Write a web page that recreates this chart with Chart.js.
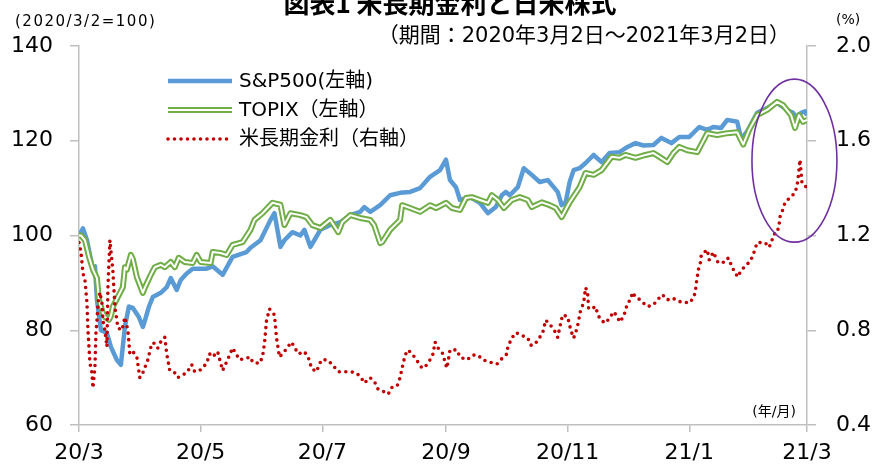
<!DOCTYPE html>
<html>
<head>
<meta charset="utf-8">
<script src="https://cdn.jsdelivr.net/npm/chart.js@4"></script>
<style>
  body { margin: 0; background: #fff; }
  #wrap { width: 875px; height: 468px; }
</style>
</head>
<body>
<div id="wrap"><canvas id="chart" width="875" height="468"></canvas></div>
<script>
// --- data (x = days since 2020/3/2) ---
const tickDays = [0, 61, 122, 184, 245, 306, 365];
const tickLabels = ['20/3', '20/5', '20/7', '20/9', '20/11', '21/1', '21/3'];

const spxDays = [0, 2, 4, 7, 8, 9, 11, 14, 16, 19, 21, 23, 25, 27, 30, 32, 33, 35, 37, 41, 44, 46, 49, 51, 54, 57, 64, 67, 72, 77, 84, 86, 91, 96, 98, 101, 103, 107, 111, 113, 116, 118, 121, 126, 131, 136, 141, 143, 146, 151, 156, 161, 166, 171, 176, 181, 184, 186, 189, 191, 196, 201, 205, 209, 212, 214, 216, 220, 223, 227, 231, 235, 240, 242, 244, 246, 248, 251, 254, 258, 262, 266, 271, 275, 279, 283, 288, 292, 297, 301, 306, 311, 315, 318, 322, 325, 330, 332, 335, 337, 340, 345, 350, 355, 358, 360, 362, 364, 365];
const spxValues = [100, 101.5, 99, 92.8, 93.5, 86.4, 80, 79.4, 76.5, 73.7, 72.7, 80.7, 85, 84.7, 82.8, 80.7, 82, 84.9, 87, 87.9, 89.1, 91, 88.5, 90.6, 92, 93, 93, 93.5, 91.7, 95.5, 96.5, 97.4, 99, 103.3, 104.7, 97.6, 99, 100.7, 100, 101.2, 97.6, 99, 101.2, 102.2, 102.8, 104.3, 105, 106, 105, 106.4, 108.5, 109, 109.2, 110, 112.4, 113.8, 116, 111.7, 110.2, 107.5, 108.1, 106.9, 104.7, 106, 108.5, 109.2, 108.5, 110.2, 114.2, 112.8, 111.3, 111.7, 109.2, 106.4, 107, 111.3, 113.8, 114.2, 115.3, 117, 115.5, 117.4, 117.6, 118.7, 119.5, 119, 119.1, 120.6, 119.5, 120.8, 120.8, 122.9, 122.3, 122.9, 122.7, 124.4, 124, 120.4, 122, 123.5, 125.9, 126.9, 128, 126.5, 125.9, 124.8, 125.9, 126.2, 125.4];

const topixDays = [0, 1, 3, 5, 7, 9, 10, 12, 13, 15, 16, 17, 22, 23, 24, 26, 27, 29, 32, 33, 36, 38, 41, 43, 46, 48, 50, 53, 57, 59, 61, 66, 67, 71, 74, 77, 82, 86, 88, 92, 97, 101, 103, 106, 111, 114, 117, 121, 126, 130, 132, 136, 141, 146, 148, 151, 152, 156, 161, 162, 166, 171, 176, 179, 184, 187, 191, 194, 197, 201, 205, 207, 210, 213, 217, 221, 225, 227, 232, 236, 239, 242, 246, 251, 254, 258, 262, 267, 271, 274, 279, 284, 288, 291, 295, 298, 301, 305, 310, 315, 320, 325, 330, 333, 336, 340, 345, 350, 353, 357, 359, 361, 363, 365];
const topixValues = [100, 100, 99, 95.5, 92.8, 91, 86.4, 83.6, 82.8, 82.2, 83, 85, 89.1, 93.3, 92.8, 95.9, 95, 91.2, 87.9, 89, 91.7, 93.3, 93.8, 93.3, 94.4, 93.3, 95.3, 94.4, 94.2, 95.9, 94.4, 94.2, 96.5, 96.3, 95.9, 98, 98.6, 101.2, 103.3, 104.7, 106.9, 106.5, 102.2, 104.7, 104.3, 103.9, 102.2, 101.6, 103.3, 100.7, 102.8, 104.3, 103.7, 103.3, 102.2, 98.4, 98.6, 101.2, 103.3, 106.4, 105.8, 105, 106.4, 105.8, 106.9, 105.8, 105.4, 107.9, 108.1, 107.5, 106.9, 108.5, 107.5, 105.8, 107.5, 108.1, 107.5, 106, 107, 106.4, 105.8, 103.9, 107, 110.2, 113.2, 112.8, 113.8, 116.6, 116.4, 117, 116.4, 117, 117.4, 116.6, 115.5, 117.4, 118.7, 118, 117.6, 121.6, 121.2, 121.6, 121.8, 119.2, 122.3, 125.4, 126.5, 128.2, 127.5, 125.4, 122.7, 125.4, 124, 124.4];

const yieldDays = [0, 1, 2, 3, 4, 4.5, 5, 5.5, 6.5, 7, 8, 8.5, 9, 9.5, 10.5, 11.5, 12, 13, 14, 14.5, 15.5, 17, 18, 19.5, 21.5, 23, 24.5, 25.5, 27, 29, 30.5, 32, 34.5, 36.5, 38, 39.5, 41.5, 43, 44, 45.5, 48, 49.5, 51.5, 54, 56.5, 58, 60.5, 64, 65.5, 67, 69.5, 72, 74.5, 77, 80.5, 86, 87, 90.5, 92, 93, 94, 95.5, 98, 99, 100.5, 103, 106.5, 110, 113, 115.5, 116.5, 119, 121.5, 124.5, 127, 130, 132, 136, 139, 141.5, 143, 146, 148.5, 150, 152.5, 155, 157, 159.5, 161, 162, 163.5, 165, 167.5, 170, 172, 173.5, 176, 177.5, 178.5, 180, 182.5, 183.5, 184.5, 186, 189.5, 191, 194.5, 197.5, 200, 202.5, 206, 209.5, 212, 214.5, 215, 217, 219, 221.5, 225, 226.5, 228, 230, 232.5, 234, 236.5, 239, 240, 241.5, 242.5, 245, 246, 247, 248, 249, 250, 251.5, 253, 254, 255, 255.5, 258, 259, 260, 261.5, 264, 266.5, 268, 270, 271, 273, 274, 275, 276.5, 277.5, 279, 281.5, 283, 285, 288, 290, 292.5, 295, 297.5, 301.5, 303, 306, 308, 309, 309.5, 310, 310.5, 311.5, 312, 315, 316, 318, 320.5, 324, 325.5, 327.5, 329, 330.5, 331.5, 334, 336.5, 338, 340, 341.5, 344, 346, 347, 348.5, 350, 351, 351.5, 352.5, 354, 356.5, 359, 360, 360.5, 361, 361.5, 362, 362.5, 364, 365];
const yieldValues = [1.17, 1.13, 1.04, 1.01, 0.915, 0.80, 0.73, 0.66, 0.62, 0.556, 0.645, 0.79, 0.84, 0.915, 0.96, 0.915, 0.84, 0.80, 0.73, 0.98, 1.18, 1.05, 0.90, 0.81, 0.80, 0.855, 0.80, 0.70, 0.71, 0.687, 0.60, 0.62, 0.675, 0.745, 0.745, 0.725, 0.76, 0.77, 0.70, 0.63, 0.62, 0.60, 0.61, 0.62, 0.655, 0.625, 0.63, 0.66, 0.70, 0.687, 0.71, 0.63, 0.675, 0.725, 0.675, 0.687, 0.665, 0.66, 0.687, 0.745, 0.84, 0.89, 0.865, 0.77, 0.687, 0.71, 0.75, 0.70, 0.71, 0.675, 0.64, 0.625, 0.675, 0.675, 0.655, 0.625, 0.625, 0.625, 0.62, 0.60, 0.577, 0.60, 0.577, 0.55, 0.542, 0.53, 0.56, 0.565, 0.60, 0.64, 0.695, 0.717, 0.695, 0.665, 0.64, 0.645, 0.675, 0.70, 0.75, 0.725, 0.70, 0.665, 0.64, 0.717, 0.717, 0.687, 0.675, 0.695, 0.695, 0.675, 0.665, 0.657, 0.68, 0.70, 0.73, 0.767, 0.79, 0.78, 0.767, 0.737, 0.737, 0.757, 0.79, 0.843, 0.82, 0.79, 0.77, 0.83, 0.865, 0.857, 0.82, 0.79, 0.767, 0.79, 0.82, 0.885, 0.915, 0.98, 0.96, 0.89, 0.895, 0.90, 0.87, 0.843, 0.83, 0.857, 0.878, 0.857, 0.835, 0.857, 0.885, 0.915, 0.928, 0.96, 0.94, 0.928, 0.915, 0.90, 0.907, 0.928, 0.95, 0.928, 0.936, 0.92, 0.92, 0.915, 0.936, 0.96, 1.0, 1.025, 1.055, 1.084, 1.118, 1.14, 1.097, 1.13, 1.084, 1.088, 1.105, 1.067, 1.04, 1.025, 1.046, 1.072, 1.09, 1.118, 1.17, 1.17, 1.17, 1.15, 1.17, 1.206, 1.21, 1.245, 1.28, 1.30, 1.34, 1.36, 1.38, 1.41, 1.44, 1.48, 1.52, 1.47, 1.42, 1.41, 1.40];

const seriesNames = ['S&P500(左軸)', 'TOPIX（左軸）', '米長期金利（右軸）'];

const BLUE = '#5B9BD5', GREEN = '#70AD47', RED = '#C00000', PURPLE = '#7030A0';
const AXIS_GRAY = '#BFBFBF';
const LATIN = '"DejaVu Sans", "Noto Sans CJK JP", sans-serif';

// highlight ellipse in data units (x: days, y: left axis)
const ellipseCenter = [358.7, 115.8];
const ellipseRadius = [21.3, 17.2];

function toPoints(days, values) {
    return days.map((d, i) => ({ x: d, y: values[i] }));
}

// --- texts, legend, ellipse ---
const decorPlugin = {
    id: 'decor',
    afterDatasetsDraw(chart) {
        const ctx = chart.ctx;
        const xs = chart.scales.x, ys = chart.scales.y;
        const cx = xs.getPixelForValue(ellipseCenter[0]);
        const cy = ys.getPixelForValue(ellipseCenter[1]);
        const rx = xs.getPixelForValue(ellipseCenter[0] + ellipseRadius[0]) - cx;
        const ry = cy - ys.getPixelForValue(ellipseCenter[1] + ellipseRadius[1]);
        ctx.save();
        ctx.strokeStyle = PURPLE;
        ctx.lineWidth = 1.6;
        ctx.beginPath();
        ctx.ellipse(cx, cy, rx, ry, 0, 0, Math.PI * 2);
        ctx.stroke();
        ctx.restore();
    },
    afterDraw(chart) {
        const ctx = chart.ctx;
        ctx.save();
        ctx.fillStyle = '#000';

        // title (cut off at top like the original)
        ctx.font = 'bold 26px "Noto Sans CJK JP", sans-serif';
        ctx.textAlign = 'center';
        ctx.textBaseline = 'alphabetic';
        ctx.fillText('図表1 米長期金利と日米株式', 450, 13);

        ctx.font = '21px ' + LATIN;
        ctx.textAlign = 'right';
        ctx.textBaseline = 'middle';
        ctx.fillText('（期間：2020年3月2日～2021年3月2日）', 790, 37);

        ctx.font = '15px ' + LATIN;
        ctx.textAlign = 'left';
        ctx.letterSpacing = '1.5px';
        ctx.fillText('(2020/3/2=100)', 15, 22);
        ctx.letterSpacing = '0px';
        ctx.font = '14px ' + LATIN;
        ctx.fillText('(%)', 836, 20);
        ctx.textAlign = 'right';
        ctx.fillText('(年/月)', 796, 412);

        // legend
        const rows = [81, 110, 139];
        const ds = chart.data.datasets;
        const samples = [ds[3], ds[2], ds[0]];
        rows.forEach((y, i) => {
            ctx.save();
            ctx.beginPath();
            ctx.moveTo(168, y);
            ctx.lineTo(232, y);
            const s = samples[i];
            ctx.strokeStyle = s.borderColor;
            ctx.lineWidth = s.borderWidth;
            ctx.lineCap = s.borderCapStyle || 'butt';
            ctx.setLineDash(s.borderDash || []);
            ctx.stroke();
            if (i === 1) {
                ctx.strokeStyle = ds[1].borderColor;
                ctx.lineWidth = ds[1].borderWidth;
                ctx.stroke();
            }
            ctx.restore();
            ctx.font = '20px ' + LATIN;
            ctx.textAlign = 'left';
            ctx.textBaseline = 'middle';
            ctx.fillText(seriesNames[i], 239, y + 1);
        });
        ctx.restore();
    }
};

const tickFont = { family: LATIN, size: 22 };

new Chart(document.getElementById('chart'), {
    type: 'line',
    data: {
        datasets: [
            {
                label: seriesNames[2],
                data: toPoints(yieldDays, yieldValues),
                yAxisID: 'y1',
                borderColor: RED,
                borderWidth: 3.6,
                borderDash: [0, 6.5],
                borderCapStyle: 'round'
            },
            {
                label: 'TOPIX inner',
                data: toPoints(topixDays, topixValues),
                yAxisID: 'y',
                borderColor: '#ffffff',
                borderWidth: 2
            },
            {
                label: seriesNames[1],
                data: toPoints(topixDays, topixValues),
                yAxisID: 'y',
                borderColor: GREEN,
                borderWidth: 6
            },
            {
                label: seriesNames[0],
                data: toPoints(spxDays, spxValues),
                yAxisID: 'y',
                borderColor: BLUE,
                borderWidth: 4.5
            }
        ]
    },
    options: {
        responsive: false,
        animation: false,
        devicePixelRatio: 1,
        layout: { padding: { top: 46, left: 0, right: 0, bottom: 0 } },
        elements: {
            point: { radius: 0 },
            line: { tension: 0, borderJoinStyle: 'round', fill: false }
        },
        plugins: {
            legend: { display: false },
            tooltip: { enabled: false }
        },
        scales: {
            x: {
                type: 'linear',
                min: 0,
                max: 365,
                afterBuildTicks: (axis) => { axis.ticks = tickDays.map(v => ({ value: v })); },
                afterFit: (s) => { s.height = 43; },
                ticks: {
                    autoSkip: false,
                    maxRotation: 0,
                    padding: 8,
                    color: '#000',
                    font: tickFont,
                    callback: (v) => tickLabels[tickDays.indexOf(v)]
                },
                grid: { drawOnChartArea: false, drawTicks: true, tickLength: 7, color: AXIS_GRAY, lineWidth: 1.5 },
                border: { color: AXIS_GRAY, width: 1.5 }
            },
            y: {
                position: 'left',
                min: 60,
                max: 140,
                afterFit: (s) => { s.width = 79; },
                ticks: { stepSize: 20, padding: 17, color: '#000', font: tickFont },
                grid: { drawOnChartArea: false, drawTicks: true, tickLength: 9, color: AXIS_GRAY, lineWidth: 1.5 },
                border: { color: AXIS_GRAY, width: 1.5 }
            },
            y1: {
                position: 'right',
                min: 0.4,
                max: 2.0,
                afterFit: (s) => { s.width = 68; },
                ticks: {
                    stepSize: 0.4,
                    padding: 20,
                    color: '#000',
                    font: tickFont,
                    callback: (v) => Number(v).toFixed(1)
                },
                grid: { drawOnChartArea: false, drawTicks: true, tickLength: 9, color: AXIS_GRAY, lineWidth: 1.5 },
                border: { color: AXIS_GRAY, width: 1.5 }
            }
        }
    },
    plugins: [decorPlugin]
});
</script>
</body>
</html>
